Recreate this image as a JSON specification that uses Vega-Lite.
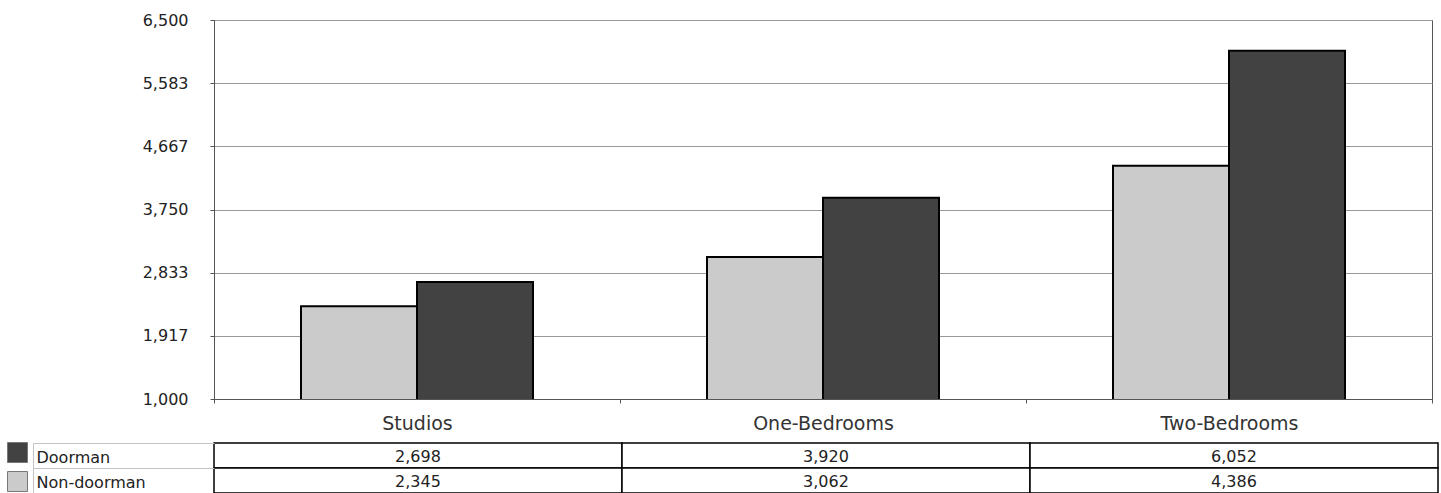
{
  "$schema": "https://vega.github.io/schema/vega-lite/v6.json",
  "background": "white",
  "padding": {"left": 7, "top": 11, "right": 2, "bottom": 1},
  "config": {
    "font": "DejaVu Sans",
    "axis": {"labelFont": "DejaVu Sans", "titleFont": "DejaVu Sans"},
    "text": {"font": "DejaVu Sans"}
  },
  "datasets": {
    "rents": [
      {"category": "Studios", "series": "Doorman", "value": 2698},
      {"category": "Studios", "series": "Non-doorman", "value": 2345},
      {"category": "One-Bedrooms", "series": "Doorman", "value": 3920},
      {"category": "One-Bedrooms", "series": "Non-doorman", "value": 3062},
      {"category": "Two-Bedrooms", "series": "Doorman", "value": 6052},
      {"category": "Two-Bedrooms", "series": "Non-doorman", "value": 4386}
    ]
  },
  "spacing": 44,
  "bounds": "flush",
  "resolve": {"scale": {"x": "independent", "y": "independent"}},
  "vconcat": [
    {
      "width": 1218,
      "height": 379,
      "view": {"stroke": "#555", "strokeWidth": 1},
      "data": {"name": "rents"},
      "mark": {"type": "bar", "stroke": "#000", "strokeWidth": 2, "clip": true},
      "encoding": {
        "x": {
          "field": "category",
          "type": "nominal",
          "sort": ["Studios", "One-Bedrooms", "Two-Bedrooms"],
          "scale": {"paddingInner": 0, "paddingOuter": 0},
          "axis": {
            "title": null,
            "labelAngle": 0,
            "tickBand": "extent",
            "tickSize": 4,
            "tickColor": "#555",
            "domainColor": "#555",
            "labelFontSize": 19,
            "labelColor": "#333",
            "labelPadding": 11,
            "grid": false
          }
        },
        "xOffset": {
          "field": "series",
          "type": "nominal",
          "scale": {"domain": ["Non-doorman", "Doorman"], "paddingInner": 0, "paddingOuter": 0.75}
        },
        "y": {
          "field": "value",
          "type": "quantitative",
          "scale": {"domain": [1000, 6500], "zero": false, "nice": false},
          "axis": {
            "title": null,
            "values": [1000, 1916.67, 2833.33, 3750, 4666.67, 5583.33, 6500],
            "format": ",.0f",
            "grid": true,
            "gridColor": "#999",
            "tickSize": 4,
            "tickColor": "#555",
            "domainColor": "#555",
            "labelPadding": 22,
            "labelFontSize": 16,
            "labelColor": "#222"
          }
        },
        "color": {
          "field": "series",
          "type": "nominal",
          "scale": {"domain": ["Doorman", "Non-doorman"], "range": ["#424242", "#cbcbcb"]},
          "legend": {
            "orient": "none",
            "legendX": -207,
            "legendY": 422,
            "title": null,
            "padding": 0,
            "symbolType": "square",
            "symbolSize": 400,
            "symbolOffset": 0,
            "symbolStrokeColor": "#777",
            "symbolStrokeWidth": 1,
            "rowPadding": 4,
            "labelExpr": "''"
          }
        }
      }
    },
    {
      "width": 1224,
      "height": 50,
      "view": {"stroke": null},
      "data": {"name": "rents"},
      "encoding": {
        "x": {
          "field": "category",
          "type": "nominal",
          "sort": ["Studios", "One-Bedrooms", "Two-Bedrooms"],
          "scale": {"paddingInner": 0, "paddingOuter": 0},
          "axis": null
        }
      },
      "layer": [
        {
          "mark": {"type": "rect", "fill": "white", "stroke": "#000", "strokeWidth": 1.5},
          "encoding": {
            "y": {
              "field": "series",
              "type": "nominal",
              "sort": ["Doorman", "Non-doorman"],
              "scale": {"paddingInner": 0, "paddingOuter": 0},
              "axis": {
                "title": null,
                "orient": "left",
                "domain": false,
                "tickBand": "extent",
                "tickSize": 181,
                "tickColor": "#c4c4c4",
                "labelAlign": "left",
                "labelBaseline": "middle",
                "labelPadding": -3,
                "labelFontSize": 16,
                "labelColor": "#222",
                "labelOffset": 2
              }
            }
          }
        },
        {
          "mark": {"type": "text", "fontSize": 16, "color": "#222", "baseline": "middle", "dy": 1},
          "encoding": {
            "y": {
              "field": "series",
              "type": "nominal",
              "sort": ["Doorman", "Non-doorman"],
              "scale": {"paddingInner": 0, "paddingOuter": 0},
              "axis": {
                "title": null,
                "orient": "left",
                "offset": 181,
                "labels": false,
                "ticks": false,
                "domain": true,
                "domainColor": "#c4c4c4"
              }
            },
            "text": {"field": "value", "type": "quantitative", "format": ",.0f"}
          }
        }
      ],
      "resolve": {"axis": {"y": "independent"}}
    }
  ]
}
